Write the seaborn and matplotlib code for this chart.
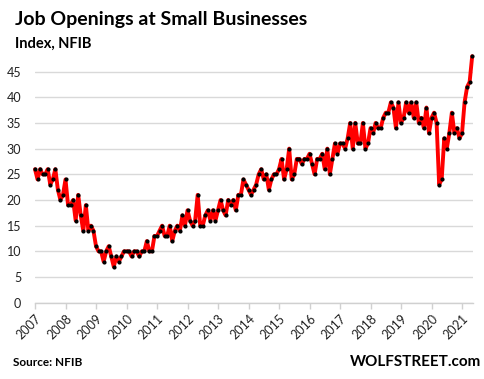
import matplotlib
matplotlib.use("Agg")
import matplotlib.pyplot as plt
import seaborn as sns
import pandas as pd
import numpy as np

# Monthly index values, Jan 2007 .. May 2021
start_year = 2007
values = [
    26, 24, 26, 25, 25, 26, 23, 24, 26, 22, 20, 21,   # 2007
    24, 19, 19, 20, 16, 21, 17, 14, 19, 14, 15, 14,   # 2008
    11, 10, 10, 8, 10, 11, 9, 7, 9, 8, 9, 10,         # 2009
    10, 10, 9, 10, 10, 9, 10, 10, 12, 10, 10, 13,     # 2010
    13, 14, 15, 13, 13, 15, 12, 14, 15, 14, 17, 15,   # 2011
    18, 16, 15, 16, 21, 15, 15, 17, 18, 16, 18, 16,   # 2012
    18, 20, 18, 17, 20, 19, 20, 18, 21, 21, 24, 23,   # 2013
    22, 21, 22, 23, 25, 26, 24, 25, 22, 24, 25, 25,   # 2014
    26, 28, 24, 26, 30, 24, 25, 28, 28, 27, 28, 28,   # 2015
    29, 27, 25, 28, 28, 29, 26, 30, 25, 28, 31, 29,   # 2016
    31, 31, 30, 32, 35, 30, 35, 31, 31, 35, 30, 31,   # 2017
    34, 33, 35, 34, 34, 36, 37, 37, 39, 38, 34, 39,   # 2018
    35, 36, 39, 37, 39, 36, 39, 35, 36, 34, 38, 33,   # 2019
    36, 37, 35, 23, 24, 32, 30, 33, 37, 33, 34, 32,   # 2020
    33, 39, 42, 43, 48,                               # 2021
]
year_ticks = list(range(2007, 2022))
y_ticks = [0, 5, 10, 15, 20, 25, 30, 35, 40, 45]

title = "Job Openings at Small Businesses"
subtitle = "Index, NFIB"
source = "Source: NFIB"
brand = "WOLFSTREET.com"

df = pd.DataFrame({
    "t": [start_year + i / 12.0 for i in range(len(values))],
    "v": values,
})

sns.set_theme(style="white")
plt.rcParams["font.family"] = ["Lato", "DejaVu Sans"]

fig = plt.figure(figsize=(4.85, 3.79), dpi=100)
ax = fig.add_axes([35 / 485, 1 - 302.7 / 379, (473 - 35) / 485, (302.7 - 49) / 379])

sns.lineplot(data=df, x="t", y="v", ax=ax, color="#ff0000", linewidth=2.8,
             marker="o", markersize=3.0, markerfacecolor="black",
             markeredgecolor="black", markeredgewidth=0, clip_on=False, zorder=3)

ax.set_xlim(2007, 2021.36)
ax.set_ylim(0, 49.4)
ax.set_yticks(y_ticks)
ax.set_yticklabels([str(v) for v in y_ticks], fontsize=9, color="#222222")
ax.set_xticks(year_ticks)
ax.set_xticklabels([str(y) for y in year_ticks], fontsize=9, color="#222222",
                   rotation=45, ha="right", rotation_mode="anchor")
ax.grid(axis="y", color="#d9d9d9", linewidth=1)
ax.grid(axis="x", visible=False)
ax.set_xlabel("")
ax.set_ylabel("")
for s in ["left", "right", "top"]:
    ax.spines[s].set_visible(False)
ax.spines["bottom"].set_color("#d0d0d0")
ax.spines["bottom"].set_linewidth(1)
ax.tick_params(axis="x", which="both", bottom=True, length=4, width=1,
               color="#d0d0d0", pad=3)
ax.tick_params(axis="y", length=0, pad=10)

fig.text(15 / 485, 1 - 20 / 379, title, fontsize=14, fontweight="bold",
         ha="left", va="center", color="black")
fig.text(15 / 485, 1 - 44 / 379, subtitle, fontsize=10.5, fontweight="bold",
         ha="left", va="center", color="black")
fig.text(13 / 485, 1 - 362 / 379, source, fontsize=8.5, fontweight="bold",
         ha="left", va="center", color="black")
fig.text(481 / 485, 1 - 362 / 379, brand, fontsize=11, fontweight="bold",
         ha="right", va="center", color="black")

fig.savefig("out.png", dpi=100)
